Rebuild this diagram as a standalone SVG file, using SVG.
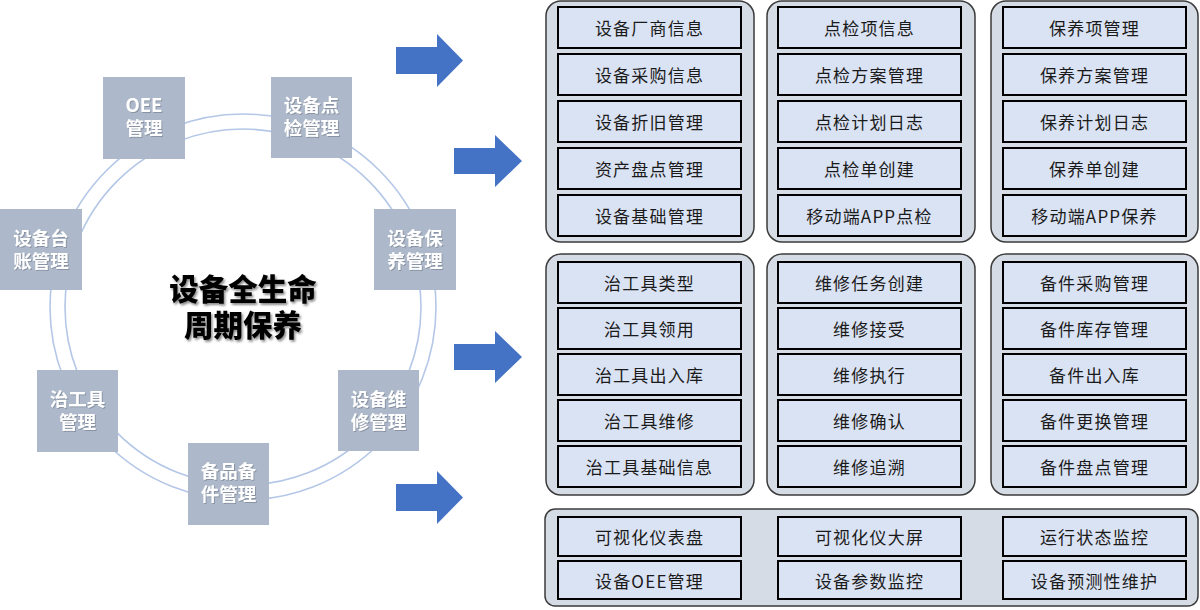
<svg xmlns="http://www.w3.org/2000/svg" width="1200" height="610" viewBox="0 0 1200 610">
<defs>
<style>
.ring{fill:none;stroke:#B4C7E7;stroke-width:1.6}
.gb{fill:#ADB9CA}
.gt{font-family:"Noto Sans CJK SC","Liberation Sans",sans-serif;font-size:18.5px;font-weight:bold;fill:#FFFFFF;text-anchor:middle}
.ct{font-family:"Noto Sans CJK SC","Liberation Sans",sans-serif;font-size:29.5px;font-weight:900;fill:#000000;text-anchor:middle}
.arrow{fill:#4472C4}
.panel{fill:#D6DCE5;stroke:#3B3B3B;stroke-width:1.5}
.box{fill:#DAE3F3;stroke:#000000;stroke-width:2}
.bt{font-family:"Noto Sans CJK SC","Liberation Sans",sans-serif;font-size:17px;fill:#1A1A1A;text-anchor:middle;dominant-baseline:central;letter-spacing:1.2px}
</style>
<filter id="sh" x="-10%" y="-20%" width="130%" height="150%">
<feDropShadow dx="1.5" dy="2" stdDeviation="1" flood-color="#000000" flood-opacity="0.45"/>
</filter>
<filter id="sh2" x="-10%" y="-20%" width="130%" height="150%">
<feDropShadow dx="1" dy="1" stdDeviation="0.6" flood-color="#6F7A8A" flood-opacity="0.6"/>
</filter>
</defs>
<rect width="1200" height="610" fill="#FFFFFF"/>

<g id="ring">
<circle class="ring" cx="243" cy="307" r="193"/>
<circle class="ring" cx="243" cy="307" r="178"/>
</g>

<g id="center-title">
<text class="ct" filter="url(#sh)"><tspan x="243" y="300">设备全生命</tspan><tspan x="243" y="336">周期保养</tspan></text>
</g>

<g id="node-oee"><rect class="gb" x="103" y="77" width="82" height="82"/><text class="gt" filter="url(#sh2)"><tspan x="144" y="112">OEE</tspan><tspan x="144" y="135">管理</tspan></text></g>
<g id="node-inspect"><rect class="gb" x="271" y="77" width="81" height="81"/><text class="gt" filter="url(#sh2)"><tspan x="311.5" y="112">设备点</tspan><tspan x="311.5" y="135">检管理</tspan></text></g>
<g id="node-ledger"><rect class="gb" x="0" y="209" width="82" height="81"/><text class="gt" filter="url(#sh2)"><tspan x="41" y="245">设备台</tspan><tspan x="41" y="268">账管理</tspan></text></g>
<g id="node-maint"><rect class="gb" x="374" y="209" width="82" height="81"/><text class="gt" filter="url(#sh2)"><tspan x="415" y="245">设备保</tspan><tspan x="415" y="268">养管理</tspan></text></g>
<g id="node-tool"><rect class="gb" x="37" y="370" width="81" height="82"/><text class="gt" filter="url(#sh2)"><tspan x="77.5" y="406">治工具</tspan><tspan x="77.5" y="429">管理</tspan></text></g>
<g id="node-repair"><rect class="gb" x="338" y="370" width="81" height="81"/><text class="gt" filter="url(#sh2)"><tspan x="378.5" y="406">设备维</tspan><tspan x="378.5" y="429">修管理</tspan></text></g>
<g id="node-spare"><rect class="gb" x="188" y="443" width="81" height="82"/><text class="gt" filter="url(#sh2)"><tspan x="228.5" y="478">备品备</tspan><tspan x="228.5" y="501">件管理</tspan></text></g>

<g id="connectors">
<polygon class="arrow" points="396,47 437,47 437,34 463,60.5 437,87 437,74 396,74"/>
<polygon class="arrow" points="454,148 495,148 495,135 522,161 495,187 495,174 454,174"/>
<polygon class="arrow" points="454,344 495,344 495,331 522,357 495,383 495,370 454,370"/>
<polygon class="arrow" points="396,484 437,484 437,471 463,497.5 437,524 437,511 396,511"/>
</g>

<g id="panel-asset">
<rect class="panel" x="546" y="1" width="208" height="241" rx="15"/>
<rect class="box" x="558" y="7" width="183" height="41"/><text class="bt" x="649.5" y="27.5">设备厂商信息</text>
<rect class="box" x="558" y="54" width="183" height="41"/><text class="bt" x="649.5" y="74.5">设备采购信息</text>
<rect class="box" x="558" y="101" width="183" height="41"/><text class="bt" x="649.5" y="121.5">设备折旧管理</text>
<rect class="box" x="558" y="148" width="183" height="41"/><text class="bt" x="649.5" y="168.5">资产盘点管理</text>
<rect class="box" x="558" y="195" width="183" height="41"/><text class="bt" x="649.5" y="215.5">设备基础管理</text>
</g>

<g id="panel-inspect">
<rect class="panel" x="767" y="1" width="208" height="241" rx="15"/>
<rect class="box" x="778" y="7" width="183" height="41"/><text class="bt" x="869.5" y="27.5">点检项信息</text>
<rect class="box" x="778" y="54" width="183" height="41"/><text class="bt" x="869.5" y="74.5">点检方案管理</text>
<rect class="box" x="778" y="101" width="183" height="41"/><text class="bt" x="869.5" y="121.5">点检计划日志</text>
<rect class="box" x="778" y="148" width="183" height="41"/><text class="bt" x="869.5" y="168.5">点检单创建</text>
<rect class="box" x="778" y="195" width="183" height="41"/><text class="bt" x="869.5" y="215.5">移动端APP点检</text>
</g>

<g id="panel-maint">
<rect class="panel" x="991" y="1" width="207" height="241" rx="15"/>
<rect class="box" x="1003" y="7" width="183" height="41"/><text class="bt" x="1094.5" y="27.5">保养项管理</text>
<rect class="box" x="1003" y="54" width="183" height="41"/><text class="bt" x="1094.5" y="74.5">保养方案管理</text>
<rect class="box" x="1003" y="101" width="183" height="41"/><text class="bt" x="1094.5" y="121.5">保养计划日志</text>
<rect class="box" x="1003" y="148" width="183" height="41"/><text class="bt" x="1094.5" y="168.5">保养单创建</text>
<rect class="box" x="1003" y="195" width="183" height="41"/><text class="bt" x="1094.5" y="215.5">移动端APP保养</text>
</g>

<g id="panel-tool">
<rect class="panel" x="546" y="254" width="208" height="241" rx="15"/>
<rect class="box" x="558" y="262" width="183" height="41"/><text class="bt" x="649.5" y="282.5">治工具类型</text>
<rect class="box" x="558" y="308" width="183" height="41"/><text class="bt" x="649.5" y="328.5">治工具领用</text>
<rect class="box" x="558" y="354" width="183" height="41"/><text class="bt" x="649.5" y="374.5">治工具出入库</text>
<rect class="box" x="558" y="400" width="183" height="41"/><text class="bt" x="649.5" y="420.5">治工具维修</text>
<rect class="box" x="558" y="446" width="183" height="41"/><text class="bt" x="649.5" y="466.5">治工具基础信息</text>
</g>

<g id="panel-repair">
<rect class="panel" x="767" y="254" width="208" height="241" rx="15"/>
<rect class="box" x="778" y="262" width="183" height="41"/><text class="bt" x="869.5" y="282.5">维修任务创建</text>
<rect class="box" x="778" y="308" width="183" height="41"/><text class="bt" x="869.5" y="328.5">维修接受</text>
<rect class="box" x="778" y="354" width="183" height="41"/><text class="bt" x="869.5" y="374.5">维修执行</text>
<rect class="box" x="778" y="400" width="183" height="41"/><text class="bt" x="869.5" y="420.5">维修确认</text>
<rect class="box" x="778" y="446" width="183" height="41"/><text class="bt" x="869.5" y="466.5">维修追溯</text>
</g>

<g id="panel-spare">
<rect class="panel" x="991" y="254" width="207" height="241" rx="15"/>
<rect class="box" x="1003" y="262" width="183" height="41"/><text class="bt" x="1094.5" y="282.5">备件采购管理</text>
<rect class="box" x="1003" y="308" width="183" height="41"/><text class="bt" x="1094.5" y="328.5">备件库存管理</text>
<rect class="box" x="1003" y="354" width="183" height="41"/><text class="bt" x="1094.5" y="374.5">备件出入库</text>
<rect class="box" x="1003" y="400" width="183" height="41"/><text class="bt" x="1094.5" y="420.5">备件更换管理</text>
<rect class="box" x="1003" y="446" width="183" height="41"/><text class="bt" x="1094.5" y="466.5">备件盘点管理</text>
</g>

<g id="panel-monitor">
<rect class="panel" x="545" y="509" width="653" height="97" rx="10"/>
<rect class="box" x="558" y="517" width="183" height="39"/><text class="bt" x="649.5" y="536.5">可视化仪表盘</text>
<rect class="box" x="778" y="517" width="183" height="39"/><text class="bt" x="869.5" y="536.5">可视化仪大屏</text>
<rect class="box" x="1003" y="517" width="183" height="39"/><text class="bt" x="1094.5" y="536.5">运行状态监控</text>
<rect class="box" x="558" y="561" width="183" height="38"/><text class="bt" x="649.5" y="580">设备OEE管理</text>
<rect class="box" x="778" y="561" width="183" height="38"/><text class="bt" x="869.5" y="580">设备参数监控</text>
<rect class="box" x="1003" y="561" width="183" height="38"/><text class="bt" x="1094.5" y="580">设备预测性维护</text>
</g>
</svg>
